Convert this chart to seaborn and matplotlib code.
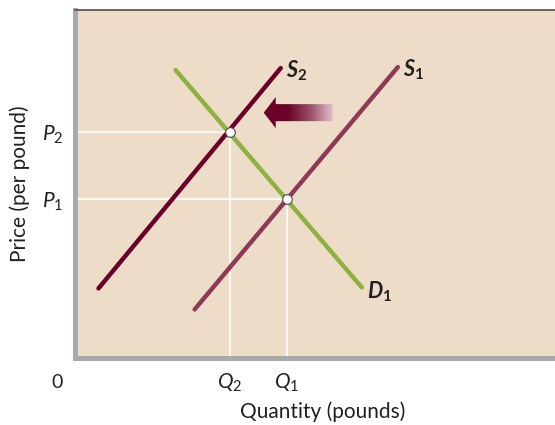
import numpy as np
import pandas as pd
import matplotlib
matplotlib.use("Agg")
import matplotlib.pyplot as plt
import seaborn as sns
from matplotlib.patches import Polygon
from matplotlib.colors import LinearSegmentedColormap

# ---- data (abstract supply/demand diagram units) ----
curve_names = ["S1", "S1", "S2", "S2", "D1", "D1"]
quantity = [120, 323, 24, 206, 101, 287]
price = [48, 290, 69, 289, 287, 70]

eq_quantity = [155, 212]          # Q2, Q1
eq_price = [225, 158]             # P2, P1
x_tick_labels = [r"$Q_2$", r"$Q_1$"]
y_tick_labels = [r"$P_2$", r"$P_1$"]

curve_labels = {"S2": r"$\mathbfit{S}_\mathbf{2}$",
                "S1": r"$\mathbfit{S}_\mathbf{1}$",
                "D1": r"$\mathbfit{D}_\mathbf{1}$"}

arrow_from = (258, 244.5)
arrow_to = (189, 244.5)

x_max, y_max = 480, 347

# ---- style ----
bg = "#EDDCC8"
colors = {"S1": "#8E3A56", "S2": "#6A0029", "D1": "#8DB23F"}
text_color = "#231F20"

sns.set_theme(style="white", rc={"axes.facecolor": bg})
plt.rcParams["font.family"] = ["Lato", "DejaVu Sans"]
plt.rcParams["mathtext.fontset"] = "custom"
plt.rcParams["mathtext.rm"] = "Lato"
plt.rcParams["mathtext.it"] = "Lato:italic"
plt.rcParams["mathtext.bf"] = "Lato:bold"
plt.rcParams["mathtext.bfit"] = "Lato:bold:italic"

fig = plt.figure(figsize=(5.55, 4.25), dpi=100)
W, H = 555, 425
left_px, right_px, top_px, bottom_px = 74.5, 555, 10, 357.5
ax = fig.add_axes([left_px / W, (H - bottom_px) / H,
                   (right_px - left_px) / W, (bottom_px - top_px) / H])

df = pd.DataFrame({"curve": curve_names, "quantity": quantity, "price": price})

# white guide lines
for q, p in zip(eq_quantity, eq_price):
    ax.plot([0, q], [p, p], color="white", lw=1.2, zorder=1, solid_capstyle="butt")
    ax.plot([q, q], [0, p], color="white", lw=1.2, zorder=1, solid_capstyle="butt")

sns.lineplot(data=df, x="quantity", y="price", hue="curve", palette=colors,
             units="curve", estimator=None, sort=False, lw=3.2, legend=False,
             ax=ax, zorder=3)

sns.scatterplot(x=eq_quantity, y=eq_price, s=48, color="white",
                edgecolor="#4a4a4a", linewidth=0.8, ax=ax, zorder=5)

# curve labels
for name in ["S2", "S1"]:
    sub = df[df.curve == name]
    top = sub.loc[sub.price.idxmax()]
    ax.annotate(curve_labels[name], (top.quantity, top.price), xytext=(4, -2),
                textcoords="offset points", fontsize=15.5, color=text_color,
                ha="left", va="center")
sub = df[df.curve == "D1"]
bot = sub.loc[sub.price.idxmin()]
ax.annotate(curve_labels["D1"], (bot.quantity, bot.price), xytext=(4, -3),
            textcoords="offset points", fontsize=15.5, color=text_color,
            ha="left", va="center")

# gradient arrow
x0, y0 = arrow_from
x1, y1 = arrow_to
head_len, head_half, shaft_half = 12, 15.5, 8.5
verts = [(x1, y1), (x1 + head_len, y1 + head_half), (x1 + head_len, y1 + shaft_half),
         (x0, y0 + shaft_half), (x0, y0 - shaft_half), (x1 + head_len, y1 - shaft_half),
         (x1 + head_len, y1 - head_half)]
poly = Polygon(verts, closed=True, facecolor="none", edgecolor="none")
ax.add_patch(poly)
cmap = LinearSegmentedColormap.from_list("arr", ["#6A0029", "#6A0029", "#9A5068", "#E6C6D2"])
grad = np.linspace(0, 1, 256).reshape(1, -1)
im = ax.imshow(grad, cmap=cmap, extent=[x1, x0, y1 - head_half, y1 + head_half],
               aspect="auto", zorder=4, interpolation="bilinear")
im.set_clip_path(poly)

ax.set_xlim(0, x_max)
ax.set_ylim(0, y_max)

ax.set_xticks(eq_quantity)
ax.set_xticklabels(x_tick_labels, fontsize=15, color=text_color)
ax.set_yticks(eq_price)
ax.set_yticklabels(y_tick_labels, fontsize=15, color=text_color)
ax.tick_params(axis="x", length=0, pad=10)
ax.tick_params(axis="y", length=0, pad=8)

ax.set_xlabel("Quantity (pounds)", fontsize=15, color=text_color)
ax.set_ylabel("Price (per pound)", fontsize=15, color=text_color)
ax.xaxis.set_label_coords(0.517, -0.126)
ax.yaxis.set_label_coords(-0.093, 0.50)
ax.text(-17, -25, "0", fontsize=14, color=text_color, ha="center", va="center",
        clip_on=False)

for s in ["left", "bottom"]:
    ax.spines[s].set_color("#A7A9AC")
    ax.spines[s].set_linewidth(3.6)
ax.spines["top"].set_color("#5F5B58")
ax.spines["top"].set_linewidth(1.3)
ax.spines["right"].set_visible(False)
ax.grid(False)

fig.savefig("out.png", dpi=100, facecolor="white")
